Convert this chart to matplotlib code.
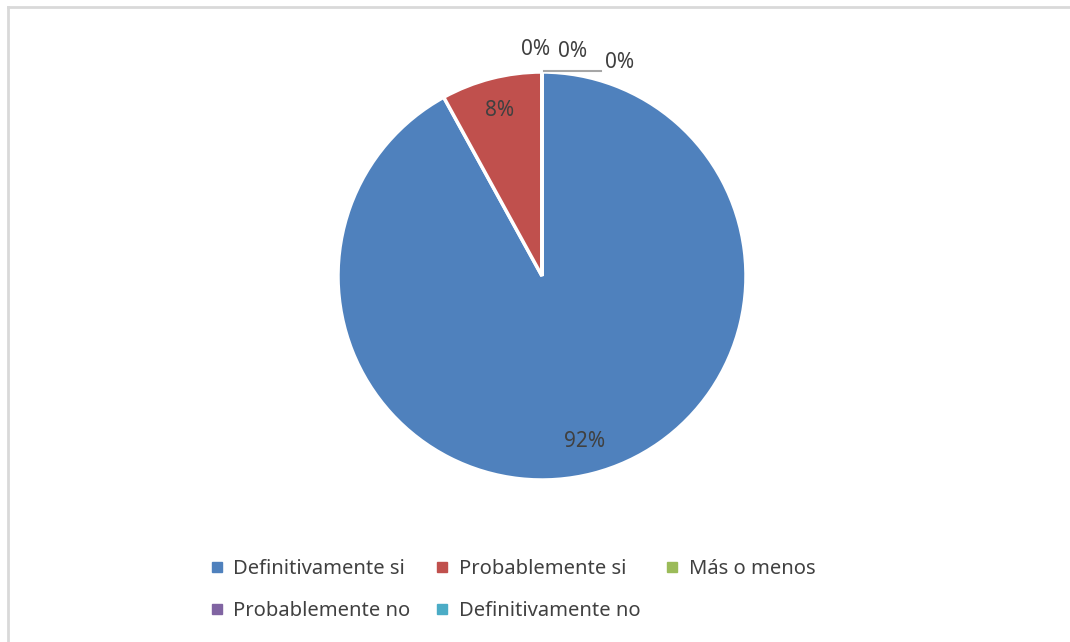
import matplotlib.pyplot as plt
from matplotlib.lines import Line2D
import numpy as np

# datos de la encuesta
categorias = ['Definitivamente si', 'Probablemente si', 'Más o menos',
              'Probablemente no', 'Definitivamente no']
valores = [92, 8, 0, 0, 0]
colores = ['#4F81BD', '#C0504D', '#9BBB59', '#8064A2', '#4BACC6']

plt.rcParams['font.family'] = ['Noto Sans', 'DejaVu Sans']
texto_color = '#404040'

fig = plt.figure(figsize=(10.7, 6.42), dpi=100)
W, H = 1070, 642
cx, cy, r = 542, 276, 204
ax = fig.add_axes([(cx - r) / W, (H - cy - r) / H, 2 * r / W, 2 * r / H])

def etiqueta(p):
    return f'{p:.0f}%' if p >= 0.5 else ''

wedges, textos, autotextos = ax.pie(
    valores, colors=colores, startangle=90, counterclock=False,
    autopct=etiqueta, pctdistance=0.84,
    wedgeprops=dict(edgecolor='white', linewidth=2.5),
    textprops=dict(color=texto_color, fontsize=15))
ax.set_xlim(-1, 1)
ax.set_ylim(-1, 1)
ax.set_aspect('equal')
ax.axis('off')

# etiquetas de las categorias con 0% (fuera del pastel)
offsets = [(-0.03, 1.11), (0.15, 1.10), (0.38, 1.045)]
k = 0
for w, v in zip(wedges, valores):
    if v == 0:
        ang = np.deg2rad(w.theta1)
        x0 = np.cos(ang)
        dx, dy = offsets[k]
        ax.text(x0 + dx, dy, '0%', ha='center', va='center',
                color=texto_color, fontsize=15, clip_on=False)
        k += 1
# linea guia de la ultima etiqueta
ax.plot([0.01, 0.29], [1.005, 1.005], color='#A6A6A6', linewidth=1.5,
        clip_on=False)

# borde del area del grafico
fig.add_artist(Line2D([8 / W, 1.0], [1 - 7 / H, 1 - 7 / H],
                      color='#D9D9D9', linewidth=2))
fig.add_artist(Line2D([8 / W, 8 / W], [0, 1 - 7 / H],
                      color='#D9D9D9', linewidth=2))

handles = [Line2D([], [], marker='s', linestyle='none', markersize=6.5,
                  markerfacecolor=c, markeredgecolor=c) for c in colores]
# orden por filas (la leyenda se llena por columnas)
orden = [0, 3, 1, 4, 2]
fig.legend([handles[i] for i in orden], [categorias[i] for i in orden],
           loc='center', ncol=3,
           bbox_to_anchor=(513 / W, 1 - 590 / H), frameon=False,
           fontsize=14.5, labelcolor=texto_color, handlelength=0.6,
           handletextpad=0.5, columnspacing=1.3, labelspacing=1.05)

plt.savefig('out.png', dpi=100)
